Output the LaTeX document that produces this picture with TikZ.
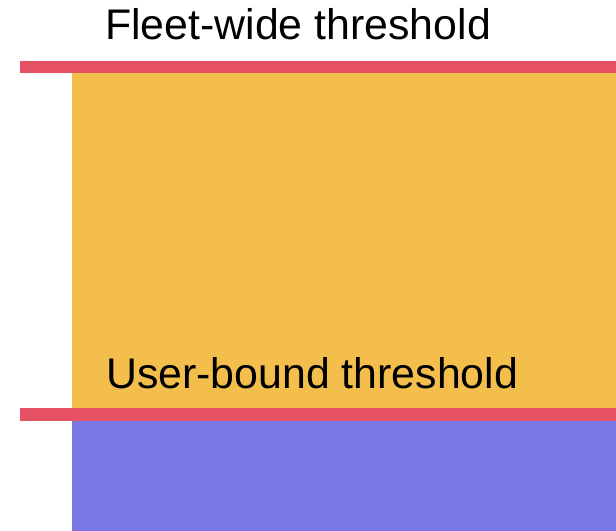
\documentclass[tikz,border=0pt]{standalone}
\usepackage{fontspec}
\setmainfont{Liberation Sans}
\definecolor{limitred}{RGB}{229,80,100}
\definecolor{bandorange}{RGB}{244,190,76}
\definecolor{bandblue}{RGB}{122,120,230}
\begin{document}
\begin{tikzpicture}[x=1bp,y=-1bp,
	label/.style={anchor=base west, inner sep=0pt, font=\fontsize{43}{50}\selectfont}]
	\useasboundingbox (0,0) rectangle (616,531);
	\fill[bandorange] (72,67) rectangle (616,414);
	\fill[bandblue] (72,414) rectangle (616,531);
	\fill[limitred] (20,61) rectangle (616,73);
	\fill[limitred] (20,408) rectangle (616,421);
	\node (fleet) [label] at (105,39.5) {Fleet-wide threshold};
	\node (user) [label] at (106,388) {User-bound threshold};
\end{tikzpicture}
\end{document}
